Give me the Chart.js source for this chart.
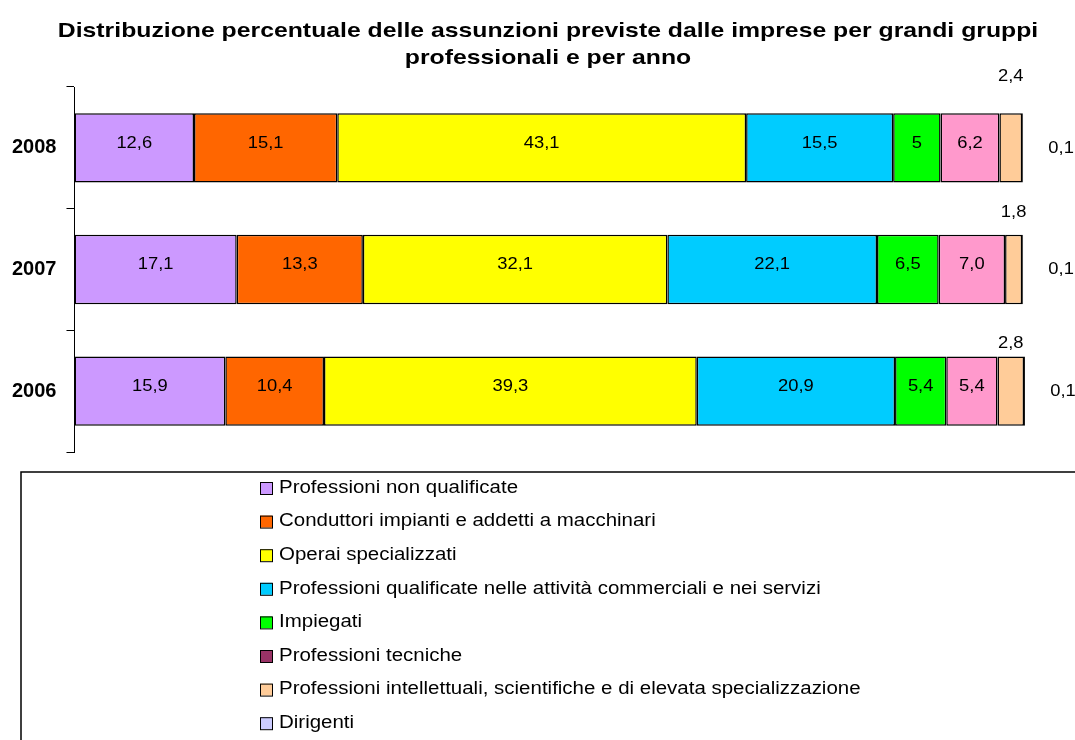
<!DOCTYPE html>
<html>
<head>
<meta charset="utf-8">
<script src="https://cdn.jsdelivr.net/npm/chart.js@4"></script>
<style>
  html, body { margin: 0; padding: 0; background: #fff; }
  #box { width: 1075px; height: 740px; position: relative; }
</style>
</head>
<body>
<div id="box"><canvas id="grafico"></canvas></div>
<script>
// Dati
const anni = ['2008', '2007', '2006'];
const nonQualificate = [12.6, 17.1, 15.9];
const conduttori = [15.1, 13.3, 10.4];
const operai = [43.1, 32.1, 39.3];
const qualificateServizi = [15.5, 22.1, 20.9];
const impiegati = [5, 6.5, 5.4];
const tecniche = [6.2, 7.0, 5.4];
const intellettuali = [2.4, 1.8, 2.8];
const dirigenti = [0.1, 0.1, 0.1];

const titolo = ['Distribuzione percentuale delle assunzioni previste dalle imprese per grandi gruppi', 'professionali e per anno'];
const nomi = [
    'Professioni non qualificate',
    'Conduttori impianti e addetti a macchinari',
    'Operai specializzati',
    'Professioni qualificate nelle attività commerciali e nei servizi',
    'Impiegati',
    'Professioni tecniche',
    'Professioni intellettuali, scientifiche e di elevata specializzazione',
    'Dirigenti'
];
const serie = [nonQualificate, conduttori, operai, qualificateServizi, impiegati, tecniche, intellettuali, dirigenti];
const coloriBarre = ['#CC99FF', '#FF6600', '#FFFF00', '#00CCFF', '#00FF00', '#FF99CC', '#FFCC99', '#CCCCFF'];
const coloriLegenda = ['#CC99FF', '#FF6600', '#FFFF00', '#00CCFF', '#00FF00', '#993366', '#FFCC99', '#CCCCFF'];

const FONT = '"Liberation Sans", Arial, sans-serif';

function formato(v, ds) {
    // in Excel il 5 del 2008 compare senza decimale
    if (ds === 4 && v === 5) return '5';
    return v.toFixed(1).replace('.', ',');
}

// testo un po' allargato in orizzontale, come nell'originale
function testoLargo(ctx, t, x, y, sx) {
    ctx.save();
    ctx.translate(x, y);
    ctx.scale(sx, 1);
    ctx.fillText(t, 0, 0);
    ctx.restore();
}

// Titolo
const titoloPlugin = {
    id: 'titolo',
    afterDraw(chart) {
        const ctx = chart.ctx;
        ctx.save();
        ctx.font = 'bold 21px ' + FONT;
        ctx.fillStyle = '#000';
        ctx.textAlign = 'center';
        ctx.textBaseline = 'middle';
        testoLargo(ctx, titolo[0], 548, 31, 1.18);
        testoLargo(ctx, titolo[1], 548, 58, 1.18);
        ctx.restore();
    }
};

// Etichette dei valori
const etichette = {
    id: 'etichette',
    afterDatasetsDraw(chart) {
        const ctx = chart.ctx;
        ctx.save();
        ctx.font = '17px ' + FONT;
        ctx.fillStyle = '#000';
        ctx.textAlign = 'center';
        ctx.textBaseline = 'middle';
        const sopra = [37, 23, 13];
        chart.data.datasets.forEach((ds, i) => {
            const meta = chart.getDatasetMeta(i);
            meta.data.forEach((bar, j) => {
                const v = ds.data[j];
                const p = bar.getProps(['x', 'y', 'base', 'height'], true);
                const testo = formato(v, i);
                if (i === 7) {
                    testoLargo(ctx, testo, p.x + 38, p.y, 1.08);
                } else if (i === 6) {
                    testoLargo(ctx, testo, (p.x + p.base) / 2, p.y - p.height / 2 - sopra[j], 1.08);
                } else {
                    testoLargo(ctx, testo, (p.x + p.base) / 2, p.y - 5, 1.08);
                }
            });
        });
        ctx.restore();
    }
};

// Legenda disegnata a mano (una voce per riga)
const legenda = {
    id: 'legendaVerticale',
    afterDraw(chart) {
        const ctx = chart.ctx;
        ctx.save();
        ctx.strokeStyle = '#000';
        ctx.lineWidth = 1.5;
        ctx.beginPath();
        ctx.moveTo(21, 745);
        ctx.lineTo(21, 472);
        ctx.lineTo(1080, 472);
        ctx.stroke();
        ctx.font = '17.5px ' + FONT;
        ctx.textBaseline = 'middle';
        ctx.textAlign = 'left';
        nomi.forEach((n, i) => {
            const y = 488 + i * 33.6;
            ctx.fillStyle = coloriLegenda[i];
            ctx.fillRect(260, y - 6, 12, 12);
            ctx.lineWidth = 1;
            ctx.strokeStyle = '#000';
            ctx.strokeRect(260.5, y - 5.5, 12, 12);
            ctx.fillStyle = '#000';
            testoLargo(ctx, n, 279, y, 1.17);
        });
        ctx.restore();
    }
};

const ctx = document.getElementById('grafico').getContext('2d');
const grafico = new Chart(ctx, {
    type: 'bar',
    data: {
        labels: anni,
        datasets: serie.map((dati, i) => ({
            label: nomi[i],
            data: dati,
            backgroundColor: coloriBarre[i],
            borderColor: '#000',
            borderWidth: 1.5,
            borderSkipped: false,
            categoryPercentage: 1,
            barPercentage: 0.57
        }))
    },
    options: {
        indexAxis: 'y',
        responsive: true,
        maintainAspectRatio: false,
        animation: false,
        layout: {
            padding: { left: 2, right: 50, top: 87, bottom: 288 }
        },
        plugins: {
            legend: { display: false },
            tooltip: { enabled: false },
            title: { display: false }
        },
        scales: {
            x: {
                stacked: true,
                display: false,
                min: 0,
                max: 100.2
            },
            y: {
                stacked: true,
                grid: {
                    display: true,
                    drawOnChartArea: false,
                    drawTicks: true,
                    tickLength: 8,
                    color: '#000',
                    offset: true
                },
                border: { display: true, color: '#000', width: 1 },
                ticks: {
                    color: '#000',
                    padding: 10,
                    font: { family: FONT, size: 20, weight: 'bold' }
                }
            }
        }
    },
    plugins: [etichette, legenda, titoloPlugin]
});
</script>
</body>
</html>
